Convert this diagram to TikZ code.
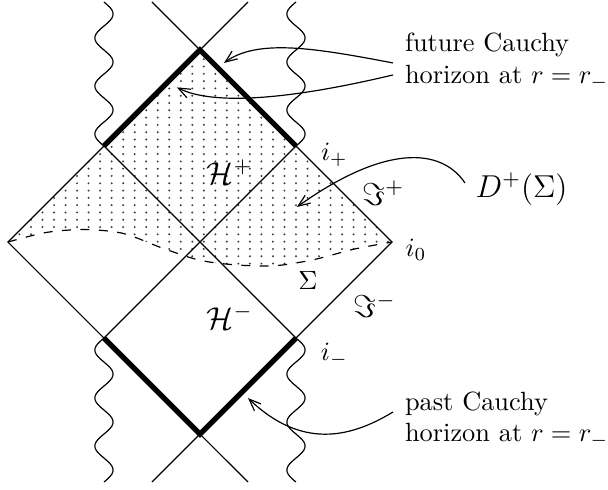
\documentclass[tikz,border=0pt]{standalone}
\usepackage{amsmath}
\usepackage{amssymb}
\usepackage{tikz}
\usetikzlibrary{arrows.meta}

\begin{document}
\begin{tikzpicture}[scale=1.28, >={Straight Barb[length=4.5pt,width=3.6pt]},
  cauchy/.style={line width=2pt},
  thin line/.style={line width=0.45pt},
  note/.style={->, line width=0.45pt}]

\useasboundingbox (-2.083,-2.573) rectangle (4.25,2.521);

% corners of the diagram
\coordinate (lft) at (-2,0);
\coordinate (izero) at (2,0);
\coordinate (ctr) at (0,0);
\coordinate (ul) at (-1,1);
\coordinate (ipl) at (1,1);
\coordinate (top) at (0,2);
\coordinate (ll) at (-1,-1);
\coordinate (imin) at (1,-1);
\coordinate (bot) at (0,-2);

% dotted domain of dependence D^+(Sigma)
\begin{scope}
\clip plot[smooth] coordinates {(-2,0) (-1.6,0.1) (-1.2,0.13) (-0.8,0.09) (-0.4,-0.06) (0,-0.19) (0.4,-0.24) (0.8,-0.245) (1.2,-0.18) (1.6,-0.075) (2,0)}
  -- (ipl) -- (top) -- (ul) -- cycle;
\foreach \x in {-2,-1.88,...,2}
  \foreach \y in {-0.3,-0.224,...,2}
    \fill[black!75] (\x,\y) circle (0.33pt);
\end{scope}

% null lines
\draw[thin line] (ul) -- (lft) -- (ll);
\draw[thin line] (ipl) -- (izero) -- (imin);
\draw[thin line] (ul) -- (imin);
\draw[thin line] (ipl) -- (ll);
\draw[thin line] (-0.5,2.5) -- (top) -- (0.5,2.5);
\draw[thin line] (-0.5,-2.5) -- (bot) -- (0.5,-2.5);

% Cauchy horizons
\draw[cauchy] (ul) -- (top) -- (ipl);
\draw[cauchy] (ll) -- (bot) -- (imin);

% singularities (wavy r=0 lines)
\foreach \xo/\yo/\s in {-1/2.5/1, 1/2.5/-1, -1/-1/-1, 1/-1/1}
  \draw[thin line] plot[domain=0:1.5, samples=73, smooth] ({\xo+\s*0.095*sin(720*\x)}, {\yo-\x});

% Sigma
\draw[thin line, dash pattern=on 3.4pt off 3.6pt] plot[smooth] coordinates {(-2,0) (-1.6,0.1) (-1.2,0.13) (-0.8,0.09) (-0.4,-0.06) (0,-0.19) (0.4,-0.24) (0.8,-0.245) (1.2,-0.18) (1.6,-0.075) (2,0)};

% labels
\node (hp) at (0.31,0.73) {\large $\mathcal{H}^+$};
\node (hm) at (0.31,-0.78) {\large $\mathcal{H}^-$};
\node (lip) at (1.40,0.91) {$i_+$};
\node (lim) at (1.40,-1.18) {$i_-$};
\node (li0) at (2.25,-0.08) {$i_0$};
\node (scp) at (1.91,0.51) {\large $\Im^+$};
\node (scm) at (1.82,-0.66) {\large $\Im^-$};
\node (sig) at (1.125,-0.40) {$\Sigma$};
\node (dom) at (3.35,0.55) {\large $D^+(\Sigma)$};

\node[anchor=west, align=left, inner sep=0pt] (fut) at (2.13,1.88) {future Cauchy\\horizon at $r=r_-$};
\node[anchor=west, align=left, inner sep=0pt] (pst) at (2.13,-1.85) {past Cauchy\\horizon at $r=r_-$};

% arrows to the horizons
\coordinate (fa) at (2.01,1.865);
\coordinate (fb) at (2.01,1.74);
\coordinate (pa) at (2.01,-1.77);
\coordinate (da) at (2.76,0.615);
\coordinate (fta) at (0.25,1.865);
\coordinate (ftb) at (-0.24,1.61);
\coordinate (pta) at (0.5,-1.625);
\coordinate (dta) at (1.01,0.365);

\draw[note] (fa) .. controls (1.2,2.02) and (0.6,2.12) .. (fta);
\draw[note] (fb) .. controls (1.0,1.5) and (0.16,1.41) .. (ftb);
\draw[note] (pa) .. controls (1.55,-2.05) and (1.05,-2.15) .. (pta);
\draw[note] (da) .. controls (2.5,1.0) and (1.9,1.0) .. (dta);

\end{tikzpicture}
\end{document}
